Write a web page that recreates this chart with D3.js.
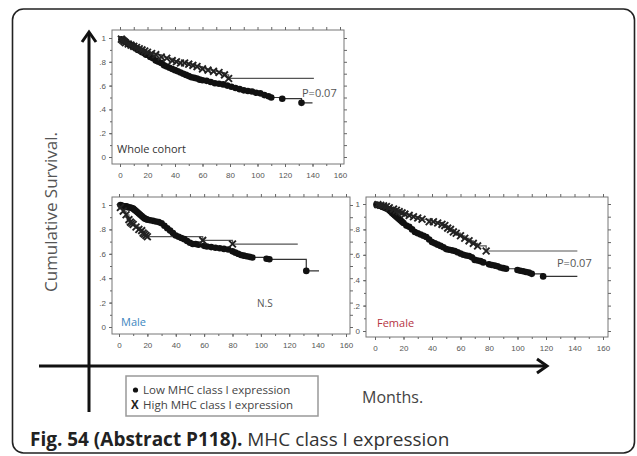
<!DOCTYPE html>
<html><head><meta charset="utf-8">
<script src="https://cdn.jsdelivr.net/npm/d3@7"></script>
<style>body{margin:0;background:#fff}svg{display:block}</style>
</head><body>
<svg id="c" width="637" height="456"></svg>
<script>
// ---------- DATA ----------
const xTicks = [0,20,40,60,80,100,120,140,160];
const yTicks = [0,0.2,0.4,0.6,0.8,1];
const yTickLabels = ["0",".2",".4",".6",".8","1"];

const wholeLowMonths = [1,2,3,4,5,6,7,8,9,10,11,12,13,14,15,16,17,18,19,20,22,24,26,28,30,32,34,36,38,40,42,44,46,48,50,52,54,56,58,60,63,66,69,72,75,78,81,84,87,90,93,96,99,102,105,108,110,118,132];
const wholeLowSurv = [0.99,0.98,0.98,0.97,0.96,0.95,0.95,0.94,0.93,0.93,0.92,0.91,0.90,0.90,0.89,0.88,0.88,0.87,0.86,0.86,0.84,0.83,0.81,0.80,0.79,0.77,0.76,0.75,0.74,0.73,0.72,0.71,0.70,0.69,0.68,0.67,0.665,0.66,0.65,0.645,0.64,0.63,0.62,0.615,0.61,0.60,0.59,0.58,0.57,0.56,0.555,0.55,0.54,0.535,0.52,0.51,0.50,0.49,0.455];
const wholeLowEnd = 140;
const wholeHighMonths = [1,2,3,4,6,8,10,12,14,16,18,20,23,26,30,34,38,41,44,47,50,53,56,60,64,68,72,76,79];
const wholeHighSurv = [0.99,0.98,0.97,0.96,0.95,0.94,0.93,0.92,0.91,0.90,0.89,0.88,0.87,0.86,0.84,0.83,0.81,0.80,0.79,0.79,0.78,0.77,0.76,0.74,0.73,0.72,0.71,0.69,0.66];
const wholeHighEnd = 141;

const maleLowMonths = [1,2,3,4,5,6,7,8,9,10,11,12,13,14,15,16,17,18,19,20,22,24,26,28,30,32,34,36,38,40,42,44,46,48,50,52,54,56,60,62,65,68,71,74,77,80,82,84,86,88,90,92,94,104,106,132];
const maleLowSurv = [1.0,0.995,0.99,0.99,0.99,0.985,0.98,0.98,0.975,0.97,0.96,0.95,0.94,0.93,0.92,0.91,0.90,0.89,0.885,0.88,0.875,0.87,0.865,0.86,0.85,0.83,0.81,0.79,0.77,0.75,0.74,0.73,0.72,0.705,0.69,0.68,0.68,0.675,0.665,0.66,0.655,0.65,0.645,0.64,0.635,0.62,0.61,0.60,0.59,0.585,0.58,0.575,0.57,0.56,0.555,0.46];
const maleLowEnd = 141;
const maleHighMonths = [1,3,5,7,8,9,10,12,14,16,17,18,19,20,59,80];
const maleHighSurv = [0.98,0.95,0.92,0.88,0.86,0.85,0.84,0.82,0.80,0.79,0.77,0.76,0.75,0.74,0.71,0.68];
const maleHighEnd = 126;

const femaleLowMonths = [1,2,3,4,5,6,7,8,9,10,11,12,13,14,15,16,17,18,19,20,22,24,26,28,30,32,34,36,38,40,42,44,46,48,50,52,54,56,58,60,62,64,66,68,70,72,74,76,80,82,84,86,88,90,92,100,102,104,106,108,110,118];
const femaleLowSurv = [0.995,0.99,0.99,0.985,0.98,0.975,0.97,0.965,0.96,0.95,0.94,0.93,0.92,0.91,0.90,0.89,0.88,0.87,0.86,0.85,0.83,0.82,0.80,0.78,0.77,0.76,0.75,0.74,0.72,0.70,0.69,0.68,0.67,0.66,0.645,0.64,0.635,0.63,0.62,0.61,0.60,0.595,0.59,0.58,0.56,0.555,0.55,0.54,0.525,0.52,0.515,0.51,0.50,0.495,0.49,0.48,0.475,0.47,0.465,0.46,0.45,0.43];
const femaleLowEnd = 142;
const femaleHighMonths = [2,4,6,8,10,13,15,17,19,21,24,27,30,33,38,41,44,47,49,51,53,55,57,60,63,66,69,72,78];
const femaleHighSurv = [0.995,0.99,0.985,0.98,0.97,0.96,0.95,0.94,0.93,0.92,0.91,0.90,0.89,0.88,0.86,0.86,0.85,0.84,0.83,0.81,0.80,0.78,0.77,0.75,0.73,0.71,0.69,0.67,0.63];
const femaleHighEnd = 142;

const legendLabels = ["Low MHC class I expression","High MHC class I expression"];

// ---------- LAYOUT ----------
const svg = d3.select("#c");
const FONT = "'Open Sans', 'DejaVu Sans', sans-serif";

svg.append("rect").attr("x",12.5).attr("y",9).attr("width",622).attr("height",444)
  .attr("rx",11).attr("fill","#fff").attr("stroke","#222").attr("stroke-width",1.6);

const panels = [
  {name:"Whole cohort", nameColor:"#333", box:[112,30,344,164], xr:[120,340], yr:[157,38],
   low:[wholeLowMonths,wholeLowSurv,wholeLowEnd], high:[wholeHighMonths,wholeHighSurv,wholeHighEnd],
   nameXY:[117,153], note:"P=0.07", noteXY:[302,97], noteSize:11},
  {name:"Male", nameColor:"#3b86c0", box:[112,197,350,334], xr:[119,346], yr:[327,205],
   low:[maleLowMonths,maleLowSurv,maleLowEnd], high:[maleHighMonths,maleHighSurv,maleHighEnd],
   nameXY:[121,326], note:"N.S", noteXY:[257,307], noteSize:10},
  {name:"Female", nameColor:"#b5343f", box:[366,197,608,337], xr:[375,603], yr:[331,204],
   low:[femaleLowMonths,femaleLowSurv,femaleLowEnd], high:[femaleHighMonths,femaleHighSurv,femaleHighEnd],
   nameXY:[377,327], note:"P=0.07", noteXY:[557,267], noteSize:11}
];

panels.forEach(p => {
  const g = svg.append("g");
  const x = d3.scaleLinear().domain([0,160]).range(p.xr);
  const y = d3.scaleLinear().domain([0,1]).range(p.yr);
  const [L,T,R,B] = p.box;
  g.append("rect").attr("x",L).attr("y",T).attr("width",R-L).attr("height",B-T)
    .attr("fill","#fff").attr("stroke","#777").attr("stroke-width",1);

  const minorX = d3.range(0,161,10), minorY = d3.range(0,1.01,0.1);
  const axStyle = a => { a.select(".domain").remove(); a.selectAll("line").attr("stroke","#666");
    a.selectAll("text").attr("fill","#555").style("font-family","'Liberation Sans', sans-serif").style("font-size","8px"); };
  const bx = g.append("g").attr("transform",`translate(0,${B})`)
    .call(d3.axisBottom(x).tickValues(xTicks).tickSize(3).tickPadding(5).tickFormat(d3.format("d")));
  axStyle(bx);
  g.append("g").attr("transform",`translate(0,${B})`)
    .call(d3.axisBottom(x).tickValues(minorX).tickSize(2).tickFormat("")).call(axStyle);
  g.append("g").attr("transform",`translate(0,${T})`)
    .call(d3.axisTop(x).tickValues(minorX).tickSize(3).tickFormat("")).call(axStyle);
  const ly = g.append("g").attr("transform",`translate(${L},0)`)
    .call(d3.axisLeft(y).tickValues(yTicks).tickSize(3).tickPadding(3).tickFormat((d,i)=>yTickLabels[i]));
  axStyle(ly);
  g.append("g").attr("transform",`translate(${L},0)`)
    .call(d3.axisLeft(y).tickValues(minorY).tickSize(2).tickFormat("")).call(axStyle);
  g.append("g").attr("transform",`translate(${R},0)`)
    .call(d3.axisRight(y).tickValues(minorY).tickSize(3).tickFormat("")).call(axStyle);

  const line = d3.line().x(d=>x(d[0])).y(d=>y(d[1])).curve(d3.curveStepAfter);
  const series = (s) => {
    const pts = [[0,1]].concat(s[0].map((m,i)=>[m,s[1][i]]));
    pts.push([s[2], s[1][s[1].length-1]]);
    return pts;
  };
  g.append("path").attr("d",line(series(p.high))).attr("fill","none").attr("stroke","#555").attr("stroke-width",1.2);
  g.append("path").attr("d",line(series(p.low))).attr("fill","none").attr("stroke","#333").attr("stroke-width",1.2);

  g.selectAll(".dot").data(p.low[0].map((m,i)=>[m,p.low[1][i]])).join("circle")
    .attr("cx",d=>x(d[0])).attr("cy",d=>y(d[1])).attr("r",3.3).attr("fill","#111");
  const xs = 3.4;
  g.selectAll(".xm").data(p.high[0].map((m,i)=>[m,p.high[1][i]])).join("path")
    .attr("d",d=>{const cx=x(d[0]), cy=y(d[1]);
      return `M${cx-xs},${cy-xs}L${cx+xs},${cy+xs}M${cx-xs},${cy+xs}L${cx+xs},${cy-xs}`;})
    .attr("stroke","#222").attr("stroke-width",1.9).attr("fill","none");

  g.append("text").attr("x",p.nameXY[0]).attr("y",p.nameXY[1]).text(p.name)
    .attr("fill",p.nameColor).style("font-family",FONT).style("font-size","11px");
  g.append("text").attr("x",p.noteXY[0]).attr("y",p.noteXY[1]).text(p.note)
    .attr("fill","#555").style("font-family",FONT).style("font-size",p.noteSize+"px");
});

// big axes
svg.append("line").attr("x1",89).attr("y1",412).attr("x2",89).attr("y2",33)
  .attr("stroke","#111").attr("stroke-width",3);
svg.append("path").attr("d","M82,42L89,32L96,42").attr("fill","none").attr("stroke","#111").attr("stroke-width",3);
svg.append("line").attr("x1",39).attr("y1",366).attr("x2",546).attr("y2",366)
  .attr("stroke","#111").attr("stroke-width",3);
svg.append("path").attr("d","M537,359L547,366L537,373").attr("fill","none").attr("stroke","#111").attr("stroke-width",3);

svg.append("text").attr("transform","translate(57,212) rotate(-90)").attr("text-anchor","middle")
  .text("Cumulative Survival.").attr("fill","#555").style("font-family",FONT).style("font-size","17px");
svg.append("text").attr("x",362).attr("y",403).text("Months.")
  .attr("fill","#444").style("font-family",FONT).style("font-size","16px");

// legend
svg.append("rect").attr("x",126).attr("y",376).attr("width",192).attr("height",40)
  .attr("fill","#fff").attr("stroke","#999").attr("stroke-width",1.5);
svg.append("circle").attr("cx",135.5).attr("cy",390).attr("r",2.6).attr("fill","#111");
svg.append("text").attr("x",131).attr("y",409).text("X").attr("fill","#222")
  .style("font-family",FONT).style("font-size","11.5px").style("font-weight","bold");
svg.selectAll(".lg").data(legendLabels).join("text")
  .attr("x",143).attr("y",(d,i)=>394+i*15).text(d=>d).attr("fill","#444")
  .style("font-family",FONT).style("font-size","11.5px");

// caption (size fitted so the bold lead-in spans the measured width)
const probe = svg.append("text").style("font-family",FONT).style("font-size","100px")
  .style("font-weight","bold").text("Fig. 54 (Abstract P");
const capSize = Math.max(14, Math.min(20, 100*168/probe.node().getComputedTextLength()));
probe.remove();
const cap = svg.append("text").attr("x",30).attr("y",446).attr("fill","#222")
  .style("font-family",FONT).style("font-size",capSize+"px");
cap.append("tspan").text("Fig. 54 (Abstract P118).").style("font-weight","bold");
cap.append("tspan").text(" MHC class I expression").attr("fill","#333");
</script>
</body></html>
